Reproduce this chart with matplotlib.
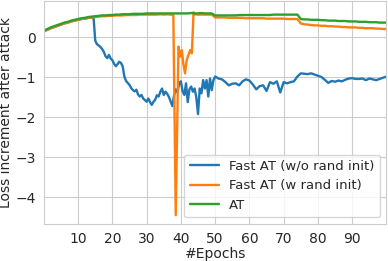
import numpy as np
import matplotlib
matplotlib.use("Agg")
import matplotlib.pyplot as plt
import seaborn as sns

sns.set_style("whitegrid")
plt.rcParams['font.family'] = ['DejaVu Sans']

# AT (plain adversarial training), one value per epoch 0..100
at_epochs = np.arange(0, 101)
at_loss = [0.17, 0.21, 0.25, 0.28, 0.31, 0.34, 0.37, 0.39, 0.42, 0.44,
           0.46, 0.48, 0.49, 0.51, 0.52, 0.53, 0.54, 0.55, 0.55, 0.56,
           0.56, 0.57, 0.57, 0.58, 0.58, 0.58, 0.59, 0.59, 0.59, 0.59,
           0.60, 0.60, 0.60, 0.60, 0.60, 0.60, 0.60, 0.60, 0.60, 0.60,
           0.60, 0.60, 0.60, 0.61, 0.60, 0.60, 0.61, 0.60, 0.60, 0.60,
           0.55, 0.55, 0.55, 0.55, 0.55, 0.55, 0.55, 0.56, 0.56, 0.56,
           0.56, 0.56, 0.56, 0.56, 0.56, 0.56, 0.56, 0.57, 0.57, 0.57,
           0.57, 0.57, 0.57, 0.57, 0.57, 0.46, 0.45, 0.45, 0.44, 0.44,
           0.44, 0.43, 0.43, 0.42, 0.42, 0.42, 0.41, 0.41, 0.41, 0.40,
           0.40, 0.40, 0.39, 0.39, 0.39, 0.38, 0.38, 0.38, 0.37, 0.37,
           0.37]

# Fast AT with random init: catastrophic dip around epoch 38-43
fast_rand_epochs = np.concatenate([
    np.arange(0, 38),
    [37.8, 38.5, 39.3, 39.8, 40.3, 40.7, 41.2, 41.7, 42.2, 42.7, 43.2, 43.7],
    np.arange(44, 101),
])
fast_rand_loss = [0.15, 0.19, 0.23, 0.26, 0.29, 0.32, 0.35, 0.37, 0.40, 0.42,
                  0.44, 0.46, 0.47, 0.49, 0.50, 0.51, 0.52, 0.53, 0.53, 0.54,
                  0.54, 0.55, 0.55, 0.55, 0.56, 0.56, 0.56, 0.56, 0.57, 0.57,
                  0.57, 0.57, 0.57, 0.57, 0.58, 0.57, 0.58, 0.57,
                  0.56, -4.45, -0.23, -0.48, -0.32, -0.65, -0.90, -0.57, -0.44,
                  -0.32, -0.40, 0.63,
                  0.58, 0.57, 0.57, 0.57, 0.57, 0.57,
                  0.50, 0.50, 0.50, 0.50, 0.49, 0.49, 0.49, 0.49, 0.49, 0.48,
                  0.48, 0.48, 0.48, 0.48, 0.48, 0.47, 0.47, 0.47, 0.47, 0.47,
                  0.47, 0.46, 0.46, 0.46, 0.46,
                  0.35, 0.33, 0.32, 0.31, 0.30, 0.30, 0.29, 0.29, 0.28, 0.28,
                  0.27, 0.27, 0.26, 0.26, 0.25, 0.25, 0.25, 0.24, 0.24, 0.23,
                  0.23, 0.23, 0.22, 0.22, 0.21, 0.21]

# Fast AT without random init: collapses at epoch ~15
fast_norand_epochs = np.concatenate([
    np.arange(0, 15),
    np.arange(14.5, 50, 0.5),
    np.arange(50, 101),
])
fast_norand_loss = [0.15, 0.19, 0.23, 0.26, 0.29, 0.32, 0.35, 0.37, 0.40, 0.42,
                    0.44, 0.46, 0.47, 0.49, 0.50,
                    0.51, -0.08, -0.17, -0.20, -0.24, -0.29, -0.36, -0.47, -0.52, -0.44,
                    -0.53, -0.57, -0.66, -0.72, -0.67, -0.61, -0.64, -0.72, -0.98, -1.09,
                    -1.14, -1.19, -1.27, -1.32, -1.35, -1.31, -1.43, -1.48, -1.44, -1.53,
                    -1.57, -1.61, -1.53, -1.62, -1.69, -1.61, -1.56, -1.45, -1.48, -1.36,
                    -1.28, -1.44, -1.36, -1.41, -1.49, -1.60, -1.72, -1.45, -1.30, -1.38,
                    -1.15, -1.10, -1.35, -1.44, -1.15, -1.62, -1.30, -1.23, -1.36, -1.28,
                    -1.50, -1.92, -1.28, -1.40, -1.07, -1.28, -1.07, -1.48, -1.03, -1.32,
                    -1.07,
                    -0.98, -1.03, -1.05, -1.12, -1.20, -1.16, -1.15, -1.20, -1.10, -1.05,
                    -1.08, -1.18, -1.30, -1.22, -1.20, -1.34, -1.12, -1.16, -1.10, -1.38,
                    -1.12, -1.15, -1.12, -1.10, -0.98, -0.90, -0.91, -0.92, -0.90, -0.93,
                    -0.96, -0.99, -1.06, -1.14, -1.09, -1.11, -1.08, -1.10, -1.06, -1.03,
                    -1.02, -1.04, -1.04, -1.03, -1.07, -1.03, -1.05, -1.07, -1.04, -1.01,
                    -0.98]

fig, ax = plt.subplots(figsize=(3.88, 2.61), dpi=100)
fig.subplots_adjust(left=0.113, right=0.996, top=0.996, bottom=0.142)

ax.plot(fast_norand_epochs, fast_norand_loss, color='#1f77b4', lw=1.7, label='Fast AT (w/o rand init)')
ax.plot(fast_rand_epochs, fast_rand_loss, color='#ff7f0e', lw=1.7, label='Fast AT (w rand init)')
ax.plot(at_epochs, at_loss, color='#2ca02c', lw=1.7, label='AT')

ax.set_xlim(0, 100)
ax.set_ylim(-4.67, 0.91)
ax.set_xticks(range(10, 100, 10))
ax.set_yticks([0, -1, -2, -3, -4])
ax.tick_params(labelsize=10, pad=2, labelcolor='#262626')
ax.set_xlabel('#Epochs', fontsize=10, labelpad=1)
ax.set_ylabel('Loss increment after attack', fontsize=10, labelpad=2)
ax.legend(loc='lower right', fontsize=9.5, handlelength=2.2)

fig.savefig('out.png', dpi=100)
